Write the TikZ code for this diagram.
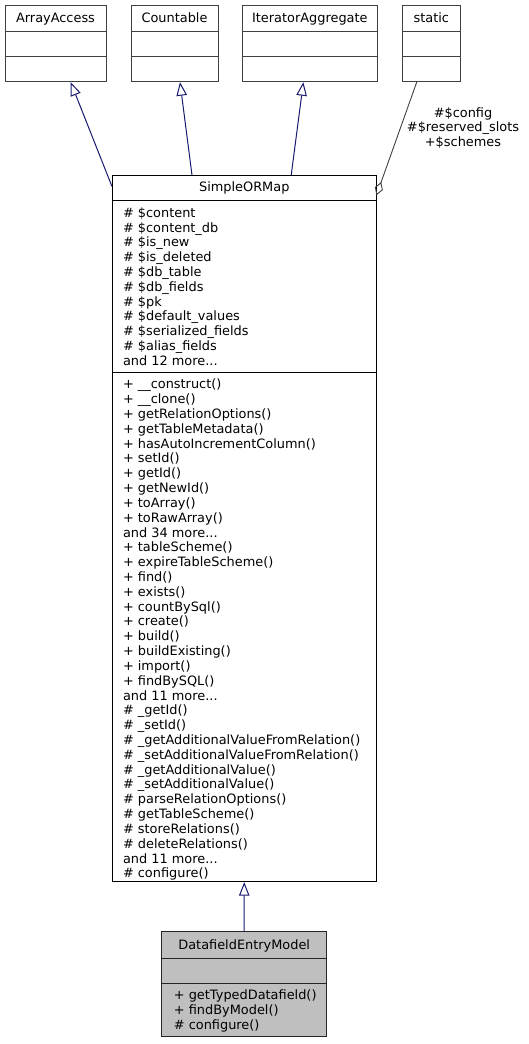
\documentclass[tikz,border=0pt]{standalone}
\usepackage{fontspec}
\setmainfont{DejaVu Sans}
\usetikzlibrary{arrows.meta,calc}
\definecolor{edgeblue}{HTML}{191970}
\definecolor{edgegray}{HTML}{404040}
\definecolor{boxgray}{HTML}{BFBFBF}
\newcommand\mythreedots{...}
\begin{document}
\begin{tikzpicture}[x=1pt,y=-1pt,
  every node/.style={font=\fontsize{12.9}{14.8}\selectfont, inner sep=0pt},
  umlbox/.style={draw=black!75, line width=1pt, fill=white, rectangle, inner sep=0pt},
  divider/.style={draw=black!75, line width=1pt},
  txt/.style={anchor=base west},
  ttl/.style={anchor=base},
  inh/.style={draw=edgeblue, line width=1pt, -{Triangle[open,length=13.5pt,width=10.5pt]}},
  agg/.style={draw=edgegray, line width=0.9pt, {Diamond[open,length=14pt,width=8.5pt]}-}
]
\useasboundingbox (0,0) rectangle (529,1044);

% top boxes
\node[umlbox, minimum width=101pt, minimum height=76.7pt] (aa) at (55.5,43.35) {};
\node[umlbox, minimum width=87pt, minimum height=76.7pt] (cnt) at (174.5,43.35) {};
\node[umlbox, minimum width=135.7pt, minimum height=76.7pt] (ita) at (309.85,43.35) {};
\node[umlbox, minimum width=58pt, minimum height=76.7pt] (stat) at (431.3,43.35) {};
\foreach \b in {aa,cnt,ita,stat} {
  \draw[divider] (\b.west |- 0,31.3) -- (\b.east |- 0,31.3);
  \draw[divider] (\b.west |- 0,56.7) -- (\b.east |- 0,56.7);
}
\node[ttl] (aaT) at (55.5,22) {ArrayAccess};
\node[ttl] (cntT) at (174.5,22) {Countable};
\node[ttl] (itaT) at (309.85,22) {IteratorAggregate};
\node[ttl] (statT) at (431.3,22) {static};

% SimpleORMap
\node[umlbox, draw=black, minimum width=263.5pt, minimum height=706pt] (sorm) at (244.25,528.7) {};
\draw[divider, draw=black] (sorm.west |- 0,200) -- (sorm.east |- 0,200);
\draw[divider, draw=black] (sorm.west |- 0,372.7) -- (sorm.east |- 0,372.7);
\node[ttl] (sormT) at (244.25,191.4) {SimpleORMap};
\foreach \t [count=\i from 0] in {%
  \# \$content, \# \$content\_db, \# \$is\_new, \# \$is\_deleted, \# \$db\_table,
  \# \$db\_fields, \# \$pk, \# \$default\_values, \# \$serialized\_fields,
  \# \$alias\_fields, and 12 more\mythreedots}
  \node[txt] (at\i) at (122.8,{217.2+14.8*\i}) {\t};
\foreach \t [count=\i from 0] in {%
  + \_\_construct(), + \_\_clone(), + getRelationOptions(), + getTableMetadata(),
  + hasAutoIncrementColumn(), + setId(), + getId(), + getNewId(), + toArray(),
  + toRawArray(), and 34 more\mythreedots, + tableScheme(), + expireTableScheme(),
  + find(), + exists(), + countBySql(), + create(), + build(), + buildExisting(),
  + import(), + findBySQL(), and 11 more\mythreedots, \# \_getId(), \# \_setId(),
  \# \_getAdditionalValueFromRelation(), \# \_setAdditionalValueFromRelation(),
  \# \_getAdditionalValue(), \# \_setAdditionalValue(), \# parseRelationOptions(),
  \# getTableScheme(), \# storeRelations(), \# deleteRelations(),
  and 11 more\mythreedots, \# configure()}
  \node[txt] (mt\i) at (122.8,{388.8+14.82*\i}) {\t};

% DatafieldEntryModel
\node[umlbox, fill=boxgray, draw=black!85, minimum width=165pt, minimum height=105pt] (dem) at (244.2,984.2) {};
\draw[divider, draw=black!85] (dem.west |- 0,958) -- (dem.east |- 0,958);
\draw[divider, draw=black!85] (dem.west |- 0,983) -- (dem.east |- 0,983);
\node[ttl] (demT) at (244.2,949.7) {DatafieldEntryModel};
\node[txt] (dm1) at (173.7,999.5) {+ getTypedDatafield()};
\node[txt] (dm2) at (173.7,1014.4) {+ findByModel()};
\node[txt] (dm3) at (173.7,1029.1) {\# configure()};

% edges
\draw[inh] ([yshift=-11.3pt]sorm.north west) -- ([xshift=15.2pt]aa.south);
\draw[inh] ([xshift=80pt]sorm.north west) -- ([xshift=5.5pt]cnt.south);
\draw[inh] ([xshift=179.2pt]sorm.north west) -- ([xshift=-6.5pt]ita.south);
\draw[agg] ([yshift=-20pt]sorm.north east) -- ([xshift=-14.6pt]stat.south);
\draw[inh] (dem.north) -- (sorm.south);

% aggregation label
\node[ttl] (l1) at (463,117.2) {\#\$config};
\node[ttl] (l2) at (463,131.9) {\#\$reserved\_slots};
\node[ttl] (l3) at (463,146.8) {+\$schemes};
\end{tikzpicture}
\end{document}
